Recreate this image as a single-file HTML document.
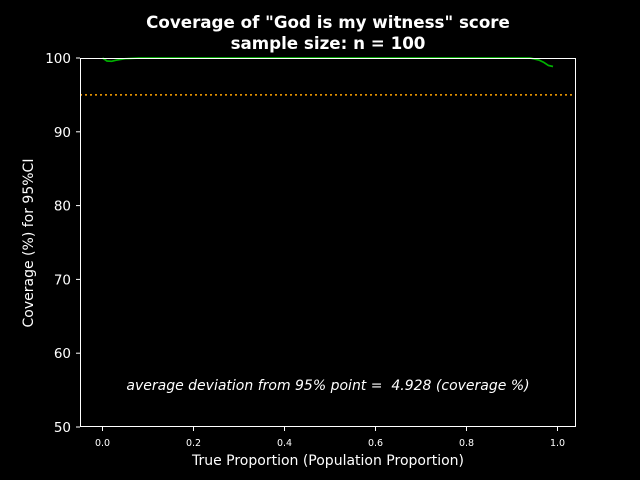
<!DOCTYPE html>
<html><head><meta charset="utf-8"><style>
html,body{margin:0;padding:0;background:#000;overflow:hidden;width:640px;height:480px;}
svg{display:block;}
svg text{font-family:"DejaVu Sans","Liberation Sans",sans-serif;fill:#fff;}
</style></head><body>
<svg width="640" height="480" viewBox="0 0 640 480" id="chart">
<rect width="640" height="480" fill="#000"/>
<text x="328" y="28" text-anchor="middle" font-size="16.7" font-weight="bold">Coverage of "God is my witness" score</text>
<text x="328" y="49" text-anchor="middle" font-size="16.7" font-weight="bold">sample size: n = 100</text>
<g id="xticks"></g>
<g id="yticks"></g>
<line id="ref" stroke="#ffa500" stroke-width="1.5" stroke-dasharray="2,3"/>
<path id="series" fill="none" stroke="#00b000" stroke-width="1.7"/>
<rect x="80.5" y="58.5" width="495" height="368" fill="none" stroke="#fff" stroke-width="1"/>
<text x="328" y="390" text-anchor="middle" font-size="14" font-style="italic">average deviation from 95% point = &#160;4.928 (coverage %)</text>
<text x="328" y="465" text-anchor="middle" font-size="14">True Proportion (Population Proportion)</text>
<text x="33" y="243" text-anchor="middle" font-size="14" transform="rotate(-90 33 243)">Coverage (%) for 95%CI</text>
</svg>
<script>
const xTicks=[0.0,0.2,0.4,0.6,0.8,1.0];
const yTicks=[50,60,70,80,90,100];
const props=[0.0,0.01,0.02,0.03,0.05,0.08,0.1,0.3,0.5,0.7,0.9,0.94,0.96,0.97,0.98,0.99];
const coverage=[100,99.6,99.55,99.7,99.9,100,100,100,100,100,100,100,99.7,99.4,99.0,98.85];
const refLevel=95;
const ns="http://www.w3.org/2000/svg";
function xs(v){return 102.5+v*455;}
function ys(v){return 427-(v-50)*369/50;}
const gx=document.getElementById('xticks'),gy=document.getElementById('yticks');
xTicks.forEach(t=>{
 const l=document.createElementNS(ns,'line');
 
 
 l.setAttribute('x1',xs(t));l.setAttribute('x2',xs(t));l.setAttribute('y1',427);l.setAttribute('y2',431);l.setAttribute('stroke','#fff');gx.appendChild(l);
 const tx=document.createElementNS(ns,'text');
 
 
 tx.setAttribute('x',xs(t));tx.setAttribute('y',446);tx.setAttribute('text-anchor','middle');tx.setAttribute('font-size','9.5');tx.textContent=t.toFixed(1);gx.appendChild(tx);
});
yTicks.forEach(t=>{
 const l=document.createElementNS(ns,'line');
 
 
 l.setAttribute('x1',76);l.setAttribute('x2',80);l.setAttribute('y1',ys(t));l.setAttribute('y2',ys(t));l.setAttribute('stroke','#fff');gy.appendChild(l);
 const tx=document.createElementNS(ns,'text');
 
 
 tx.setAttribute('x',71);tx.setAttribute('y',ys(t)+5);tx.setAttribute('text-anchor','end');tx.setAttribute('font-size','13.5');tx.textContent=t;gy.appendChild(tx);
});
const r=document.getElementById('ref');
r.setAttribute('x1',80);r.setAttribute('x2',576);r.setAttribute('y1',ys(refLevel));r.setAttribute('y2',ys(refLevel));
document.getElementById('series').setAttribute('d',props.map((p,i)=>(i?'L':'M')+xs(p).toFixed(1)+','+ys(coverage[i]).toFixed(1)).join(' '));
</script>
</body></html>
